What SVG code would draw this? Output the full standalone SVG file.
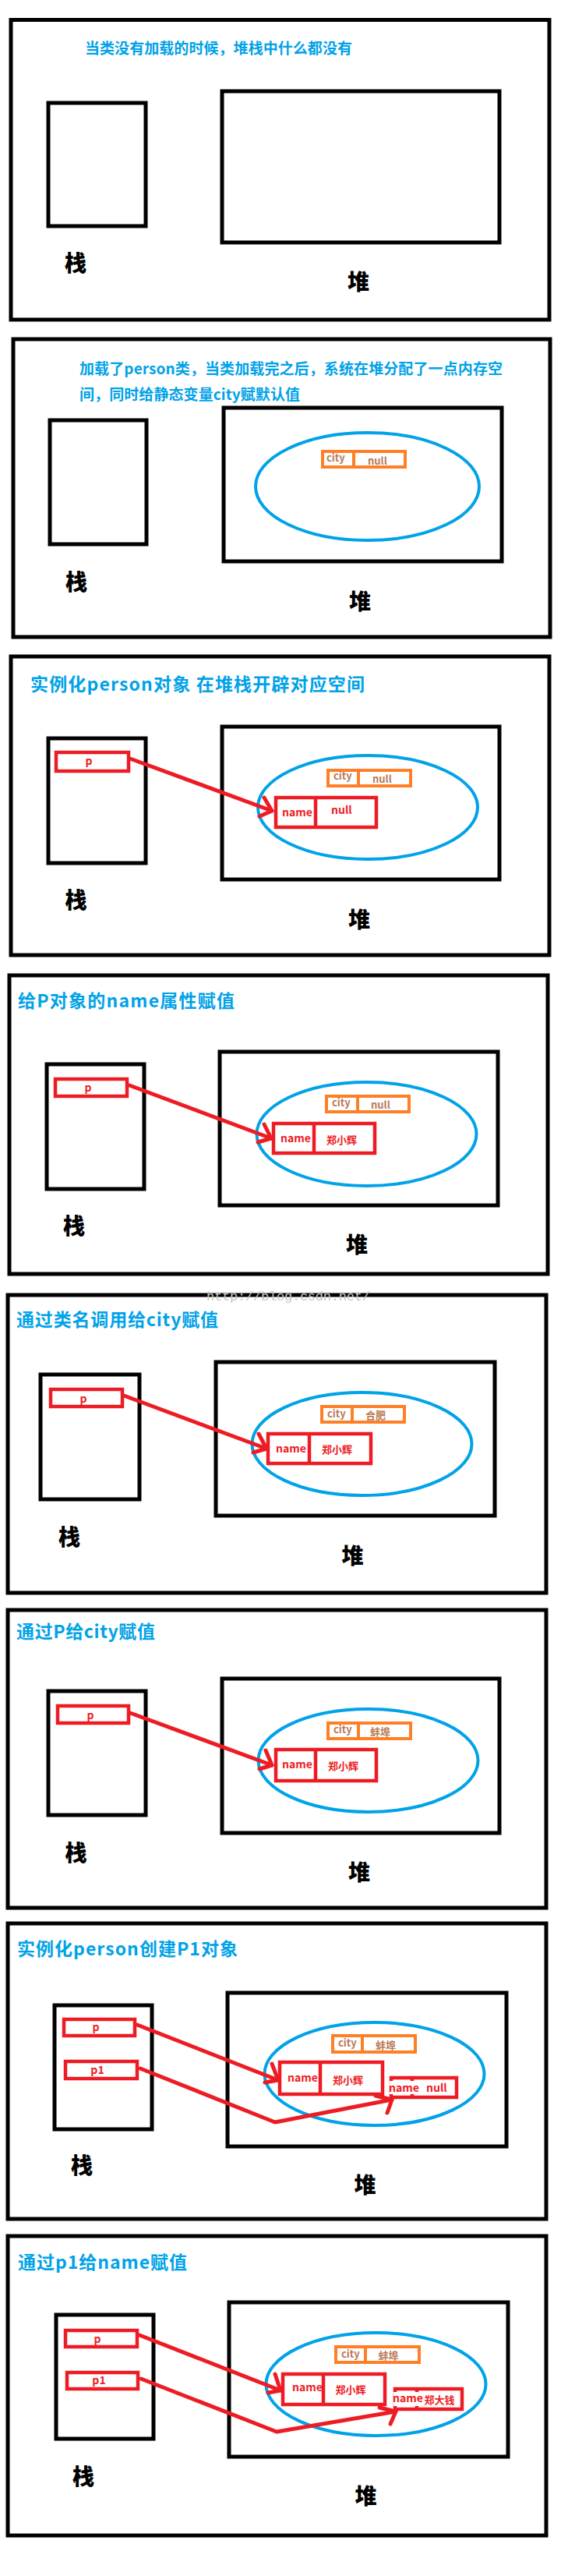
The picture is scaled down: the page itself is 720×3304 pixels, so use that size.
<svg xmlns="http://www.w3.org/2000/svg" width="720" height="3304" viewBox="0 0 720 3304">
<style>
.frame{fill:none;stroke:#000;stroke-width:5}
.title{font-family:"Noto Sans CJK SC","Liberation Sans",sans-serif;font-weight:bold;fill:#00a2e8}
.lbl{font-family:"Noto Sans CJK SC",sans-serif;font-weight:900;font-size:28px;fill:#000;text-anchor:middle}
.ell{fill:none;stroke:#00a2e8;stroke-width:4}
.cbox{fill:#fff;stroke:#ff7f27;stroke-width:4}
.cdiv{stroke:#ff7f27;stroke-width:4}
.ctext{font-family:"Noto Sans CJK SC",sans-serif;font-weight:bold;font-size:13px;fill:#b97a57}
.rbox{fill:#fff;stroke:#ed1c24;stroke-width:4.5}
.rdiv{stroke:#ed1c24;stroke-width:4.5}
.rtext{font-family:"Noto Sans CJK SC",sans-serif;font-weight:bold;font-size:14px;fill:#ed1c24}
.rcjk{font-family:"Noto Sans CJK SC",sans-serif;font-weight:bold;font-size:13px;fill:#ed1c24}
.ccjk{font-family:"Noto Sans CJK SC",sans-serif;font-weight:bold;font-size:13px;fill:#b97a57}
.mid{text-anchor:middle}
.notch{fill:#fff}
.arrow{fill:none;stroke:#ed1c24;stroke-width:5;stroke-linecap:round;stroke-linejoin:round}
.wm{font-family:"Liberation Mono",monospace;font-size:17px;fill:#c8c8c8}
</style>
<rect x="0" y="0" width="720" height="3304" fill="#fff"/>

<!-- Panel 1 -->
<g id="panel1">
  <rect class="frame" x="14" y="25.5" width="691" height="384.5"/>
  <text class="title" x="109" y="69" font-size="19" textLength="343">当类没有加载的时候，堆栈中什么都没有</text>
  <g id="p1-stack"><rect class="frame" x="62" y="132" width="125" height="158"/><text class="lbl" x="97" y="348">栈</text></g>
  <g id="p1-heap"><rect class="frame" x="285" y="117" width="356" height="194"/><text class="lbl" x="460" y="372">堆</text></g>
</g>

<!-- Panel 2 -->
<g id="panel2">
  <rect class="frame" x="17" y="435" width="689" height="382"/>
  <text class="title" x="102" y="480" font-size="19" textLength="543">加载了person类，当类加载完之后，系统在堆分配了一点内存空</text>
  <text class="title" x="102" y="513" font-size="19" textLength="283">间，同时给静态变量city赋默认值</text>
  <g id="p2-stack"><rect class="frame" x="64" y="539" width="124" height="159"/><text class="lbl" x="98" y="757">栈</text></g>
  <g id="p2-heap"><rect class="frame" x="287" y="523" width="357" height="197"/><text class="lbl" x="462" y="782">堆</text>
    <ellipse class="ell" cx="471.5" cy="624" rx="143.5" ry="69"/></g>
  <g id="p2-city"><rect class="cbox" x="414" y="579" width="106" height="20"/><line class="cdiv" x1="454" y1="579" x2="454" y2="599"/>
    <text class="ctext" x="419" y="592">city</text><text class="ctext" x="472" y="596">null</text></g>
</g>

<!-- Panel 3 -->
<g id="panel3">
  <rect class="frame" x="14" y="842" width="691" height="383"/>
  <text class="title" x="39" y="886" font-size="23" textLength="429">实例化person对象 在堆栈开辟对应空间</text>
  <g id="p3-stack"><rect class="frame" x="62" y="947" width="125" height="160"/><text class="lbl" x="97.5" y="1165">栈</text></g>
  <g id="p3-heap"><rect class="frame" x="285" y="932" width="356" height="196"/><text class="lbl" x="461" y="1190">堆</text>
    <ellipse class="ell" cx="472" cy="1035.5" rx="141" ry="66.5"/></g>
  <g id="p3-city"><rect class="cbox" x="421" y="988" width="106" height="20"/><line class="cdiv" x1="460" y1="988" x2="460" y2="1008"/>
    <text class="ctext" x="428" y="1000">city</text><text class="ctext" x="478" y="1004">null</text></g>
  <g id="p3-name"><rect class="rbox" x="354" y="1023" width="129" height="38"/><line class="rdiv" x1="405" y1="1023" x2="405" y2="1061"/>
    <text class="rtext" x="362" y="1047">name</text><text class="rtext" x="425" y="1044">null</text></g>
  <g id="p3-p"><rect class="rbox" x="72" y="965" width="93" height="24"/><rect class="notch" x="106" y="968" width="19" height="18"/><text class="rtext mid" x="114" y="981">p</text></g>
  <g id="p3-connectors"><path class="arrow" d="M167,973 L349,1040"/><path class="arrow" d="M339,1023 L349,1040 L333,1047"/></g>
</g>

<!-- Panel 4 -->
<g id="panel4">
  <rect class="frame" x="12" y="1251" width="691" height="383"/>
  <text class="title" x="23" y="1292" font-size="23" textLength="278">给P对象的name属性赋值</text>
  <g id="p4-stack"><rect class="frame" x="60" y="1365" width="125" height="160"/><text class="lbl" x="95" y="1583">栈</text></g>
  <g id="p4-heap"><rect class="frame" x="282" y="1349" width="357" height="197"/><text class="lbl" x="458" y="1607">堆</text>
    <ellipse class="ell" cx="470.5" cy="1454.5" rx="141" ry="66.5"/></g>
  <g id="p4-city"><rect class="cbox" x="419" y="1406" width="106" height="20"/><line class="cdiv" x1="459" y1="1406" x2="459" y2="1426"/>
    <text class="ctext" x="426" y="1419">city</text><text class="ctext" x="476" y="1422">null</text></g>
  <g id="p4-name"><rect class="rbox" x="351" y="1441" width="130" height="38"/><line class="rdiv" x1="403" y1="1441" x2="403" y2="1479"/>
    <text class="rtext" x="360" y="1465">name</text><text class="rcjk" x="419" y="1467">郑小辉</text></g>
  <g id="p4-p"><rect class="rbox" x="71" y="1384" width="92" height="22"/><rect class="notch" x="105" y="1387" width="19" height="16"/><text class="rtext mid" x="113" y="1400">p</text></g>
  <g id="p4-connectors"><path class="arrow" d="M166,1392 L348,1460"/><path class="arrow" d="M339,1442 L348,1460 L331,1465"/></g>
</g>

<!-- Panel 5 -->
<g id="panel5">
  <rect class="frame" x="10" y="1661" width="691" height="382"/>
  <text class="wm" x="265" y="1668" textLength="210">http://blog.csdn.net/</text>
  <text class="title" x="21" y="1701" font-size="23" textLength="259">通过类名调用给city赋值</text>
  <g id="p5-stack"><rect class="frame" x="52" y="1763" width="127" height="160"/><text class="lbl" x="89" y="1982">栈</text></g>
  <g id="p5-heap"><rect class="frame" x="277" y="1747" width="358" height="197"/><text class="lbl" x="452.5" y="2006">堆</text>
    <ellipse class="ell" cx="464.5" cy="1852" rx="141" ry="66"/></g>
  <g id="p5-city"><rect class="cbox" x="413" y="1804" width="106" height="20"/><line class="cdiv" x1="452" y1="1804" x2="452" y2="1824"/>
    <text class="ctext" x="420" y="1818">city</text><text class="ccjk" x="469" y="1820">合肥</text></g>
  <g id="p5-name"><rect class="rbox" x="344" y="1839" width="132" height="38"/><line class="rdiv" x1="397" y1="1839" x2="397" y2="1877"/>
    <text class="rtext" x="354" y="1863">name</text><text class="rcjk" x="413" y="1864">郑小辉</text></g>
  <g id="p5-p"><rect class="rbox" x="65" y="1782" width="92" height="22"/><rect class="notch" x="98" y="1785" width="20" height="16"/><text class="rtext mid" x="107" y="1799">p</text></g>
  <g id="p5-connectors"><path class="arrow" d="M159,1790 L342,1858"/><path class="arrow" d="M332,1839 L342,1858 L325,1863"/></g>
</g>

<!-- Panel 6 -->
<g id="panel6">
  <rect class="frame" x="10" y="2065" width="691" height="382"/>
  <text class="title" x="21" y="2101" font-size="23" textLength="178">通过P给city赋值</text>
  <g id="p6-stack"><rect class="frame" x="62" y="2169" width="125" height="159"/><text class="lbl" x="97.5" y="2387">栈</text></g>
  <g id="p6-heap"><rect class="frame" x="285" y="2153" width="356" height="198"/><text class="lbl" x="461" y="2412">堆</text>
    <ellipse class="ell" cx="472.5" cy="2258" rx="141" ry="66"/></g>
  <g id="p6-city"><rect class="cbox" x="421" y="2210" width="106" height="20"/><line class="cdiv" x1="460" y1="2210" x2="460" y2="2230"/>
    <text class="ctext" x="428" y="2223">city</text><text class="ccjk" x="475" y="2226">蚌埠</text></g>
  <g id="p6-name"><rect class="rbox" x="354" y="2244" width="129" height="40"/><line class="rdiv" x1="405" y1="2244" x2="405" y2="2284"/>
    <text class="rtext" x="362" y="2268">name</text><text class="rcjk" x="421" y="2270">郑小辉</text></g>
  <g id="p6-p"><rect class="rbox" x="74" y="2188" width="91" height="22"/><rect class="notch" x="107" y="2191" width="18" height="16"/><text class="rtext mid" x="116" y="2205">p</text></g>
  <g id="p6-connectors"><path class="arrow" d="M167,2197 L349,2264"/><path class="arrow" d="M341,2245 L349,2264 L333,2269"/></g>
</g>

<!-- Panel 7 -->
<g id="panel7">
  <rect class="frame" x="10" y="2467" width="691" height="379"/>
  <text class="title" x="22" y="2508" font-size="23" textLength="283">实例化person创建P1对象</text>
  <g id="p7-stack"><rect class="frame" x="70" y="2572" width="125" height="159"/><text class="lbl" x="105" y="2788">栈</text></g>
  <g id="p7-heap"><rect class="frame" x="292" y="2556" width="358" height="197"/><text class="lbl" x="468.5" y="2813">堆</text>
    <ellipse class="ell" cx="480.5" cy="2660" rx="141" ry="66"/></g>
  <g id="p7-city"><rect class="cbox" x="427" y="2611" width="106" height="21"/><line class="cdiv" x1="465" y1="2611" x2="465" y2="2632"/>
    <text class="ctext" x="434" y="2625">city</text><text class="ccjk" x="482" y="2628">蚌埠</text></g>
  <g id="p7-name1"><rect class="rbox" x="359" y="2645" width="132" height="41"/><line class="rdiv" x1="411" y1="2645" x2="411" y2="2686"/>
    <text class="rtext" x="369" y="2670">name</text><text class="rcjk" x="427" y="2673">郑小辉</text></g>
  <g id="p7-name2"><rect class="rbox" x="502" y="2665" width="84" height="25"/><line class="rdiv" x1="529" y1="2665" x2="529" y2="2690"/>
    <rect class="notch" x="500" y="2669" width="32" height="17"/>
    <text class="rtext" x="499" y="2683">name</text><text class="rtext" x="547" y="2683">null</text></g>
  <g id="p7-p"><rect class="rbox" x="82" y="2590" width="91" height="21"/><rect class="notch" x="114" y="2593" width="20" height="15"/><text class="rtext mid" x="123" y="2605">p</text></g>
  <g id="p7-p1"><rect class="rbox" x="84" y="2644" width="92" height="22"/><text class="rtext mid" x="125" y="2660">p1</text></g>
  <g id="p7-connectors">
    <path class="arrow" d="M176,2597 L357,2668"/><path class="arrow" d="M349,2647 L357,2668 L340,2671"/>
    <path class="arrow" d="M180,2653 L353,2722 L503,2693"/><path class="arrow" d="M482,2688 L503,2693 L497,2710"/>
  </g>
</g>

<!-- Panel 8 -->
<g id="panel8">
  <rect class="frame" x="10" y="2868" width="691" height="384"/>
  <text class="title" x="23" y="2910" font-size="23" textLength="217">通过p1给name赋值</text>
  <g id="p8-stack"><rect class="frame" x="72" y="2969" width="125" height="159"/><text class="lbl" x="107" y="3187">栈</text></g>
  <g id="p8-heap"><rect class="frame" x="294" y="2953" width="358" height="198"/><text class="lbl" x="469.5" y="3212">堆</text>
    <ellipse class="ell" cx="482.5" cy="3058" rx="141" ry="66"/></g>
  <g id="p8-city"><rect class="cbox" x="431" y="3010" width="107" height="20"/><line class="cdiv" x1="469" y1="3010" x2="469" y2="3030"/>
    <text class="ctext" x="438" y="3024">city</text><text class="ccjk" x="485.5" y="3026">蚌埠</text></g>
  <g id="p8-name1"><rect class="rbox" x="363" y="3045" width="131" height="39"/><line class="rdiv" x1="415" y1="3045" x2="415" y2="3084"/>
    <text class="rtext" x="375" y="3067">name</text><text class="rcjk" x="430.5" y="3070">郑小辉</text></g>
  <g id="p8-name2"><rect class="rbox" x="507" y="3064" width="86" height="26"/><line class="rdiv" x1="535" y1="3064" x2="535" y2="3090"/>
    <rect class="notch" x="505" y="3068" width="33" height="18"/>
    <text class="rtext" x="504" y="3081">name</text><text class="rcjk" x="544.5" y="3083">郑大钱</text></g>
  <g id="p8-p"><rect class="rbox" x="84" y="2989" width="92" height="21"/><rect class="notch" x="117" y="2992" width="18" height="15"/><text class="rtext mid" x="125" y="3005">p</text></g>
  <g id="p8-p1"><rect class="rbox" x="86" y="3043" width="91" height="21"/><text class="rtext mid" x="127" y="3058">p1</text></g>
  <g id="p8-connectors">
    <path class="arrow" d="M179,2995 L360,3066"/><path class="arrow" d="M353,3045 L360,3066 L344,3069"/>
    <path class="arrow" d="M181,3051 L355,3119 L508,3093"/><path class="arrow" d="M487,3088 L508,3093 L501,3109"/>
  </g>
</g>
</svg>
